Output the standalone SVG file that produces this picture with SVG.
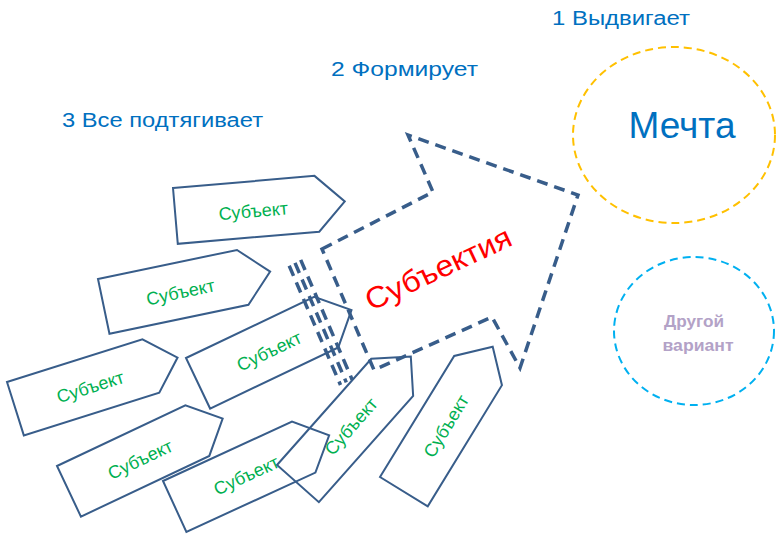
<svg xmlns="http://www.w3.org/2000/svg" width="784" height="546" viewBox="0 0 784 546">
  <style>
    .hdr { font-family: "Liberation Sans", Arial, sans-serif; font-size: 20px; fill: #0070C0; }
    .pent { fill: none; stroke: #385D8A; stroke-width: 2; stroke-linejoin: miter; }
    .subj { font-family: "Liberation Sans", Arial, sans-serif; font-size: 18px; fill: #00B050; text-anchor: middle; }
    .dash { fill: none; stroke: #385D8A; stroke-width: 3.5; stroke-dasharray: 11 7; stroke-linejoin: miter; }
  </style>
  <defs>
    <path id="home" d="M0,0 L142,0 L170,28 L142,56 L0,56 Z"/>
  </defs>
  <rect width="784" height="546" fill="#FFFFFF"/>

  <g id="headers">
    <text class="hdr" x="552" y="25" textLength="138" lengthAdjust="spacingAndGlyphs">1 Выдвигает</text>
    <text class="hdr" x="331" y="76" textLength="147" lengthAdjust="spacingAndGlyphs">2 Формирует</text>
    <text class="hdr" x="62" y="127" textLength="201" lengthAdjust="spacingAndGlyphs">3 Все подтягивает</text>
  </g>

  <g id="dream">
    <ellipse cx="674" cy="135" rx="101" ry="88" fill="none" stroke="#FFC000" stroke-width="2" stroke-dasharray="8 5"/>
    <text x="682" y="138" font-family="Liberation Sans, Arial, sans-serif" font-size="37" fill="#0070C0" text-anchor="middle">Мечта</text>
  </g>

  <g id="other">
    <ellipse cx="694" cy="331" rx="80" ry="74" fill="none" stroke="#00B0F0" stroke-width="2" stroke-dasharray="8 5"/>
    <text x="694" y="327" font-family="Liberation Sans, Arial, sans-serif" font-size="16" font-weight="bold" fill="#B3A2C7" text-anchor="middle" textLength="60" lengthAdjust="spacingAndGlyphs">Другой</text>
    <text x="698" y="351" font-family="Liberation Sans, Arial, sans-serif" font-size="16" font-weight="bold" fill="#B3A2C7" text-anchor="middle" textLength="71" lengthAdjust="spacingAndGlyphs">вариант</text>
  </g>

  <g id="subjectia">
    <path class="dash" d="M322,249 L433,192 L408,135 L578,195 L520,368 L492,317 L374,370 Z"/>
    <line class="dash" x1="289.2" y1="265.8" x2="340.5" y2="385"/>
    <line class="dash" x1="295" y1="262.9" x2="346.3" y2="382.4"/>
    <line class="dash" x1="300.7" y1="259.9" x2="352.2" y2="379.8"/>
    <g transform="translate(438,268) rotate(-25)">
      <text x="0" y="11" font-family="Liberation Sans, Arial, sans-serif" font-size="30" fill="#FF0000" text-anchor="middle" textLength="158" lengthAdjust="spacingAndGlyphs">Субъектия</text>
    </g>
  </g>

  <g id="subject1" transform="translate(173,188) rotate(-4.9)">
    <use href="#home" class="pent"/>
    <text class="subj" x="78" y="36">Субъект</text>
  </g>
  <g id="subject2" transform="translate(98,279) rotate(-11.8)">
    <use href="#home" class="pent"/>
    <text class="subj" x="78" y="36">Субъект</text>
  </g>
  <g id="subject3" transform="translate(7,382) rotate(-17.5)">
    <use href="#home" class="pent"/>
    <text class="subj" x="78" y="36">Субъект</text>
  </g>
  <g id="subject4" transform="translate(186,358) rotate(-25.5)">
    <use href="#home" class="pent"/>
    <text class="subj" x="78" y="36">Субъект</text>
  </g>
  <g id="subject5" transform="translate(57,466) rotate(-25.3)">
    <use href="#home" class="pent"/>
    <text class="subj" x="78" y="36">Субъект</text>
  </g>
  <g id="subject6" transform="translate(163,481) rotate(-24.7)">
    <use href="#home" class="pent"/>
    <text class="subj" x="78" y="36">Субъект</text>
  </g>
  <g id="subject7" transform="translate(277,465) rotate(-48.4)">
    <use href="#home" class="pent"/>
    <text class="subj" x="78" y="36">Субъект</text>
  </g>
  <g id="subject8" transform="translate(380,477) rotate(-58.5)">
    <use href="#home" class="pent"/>
    <text class="subj" x="78" y="36">Субъект</text>
  </g>
</svg>
